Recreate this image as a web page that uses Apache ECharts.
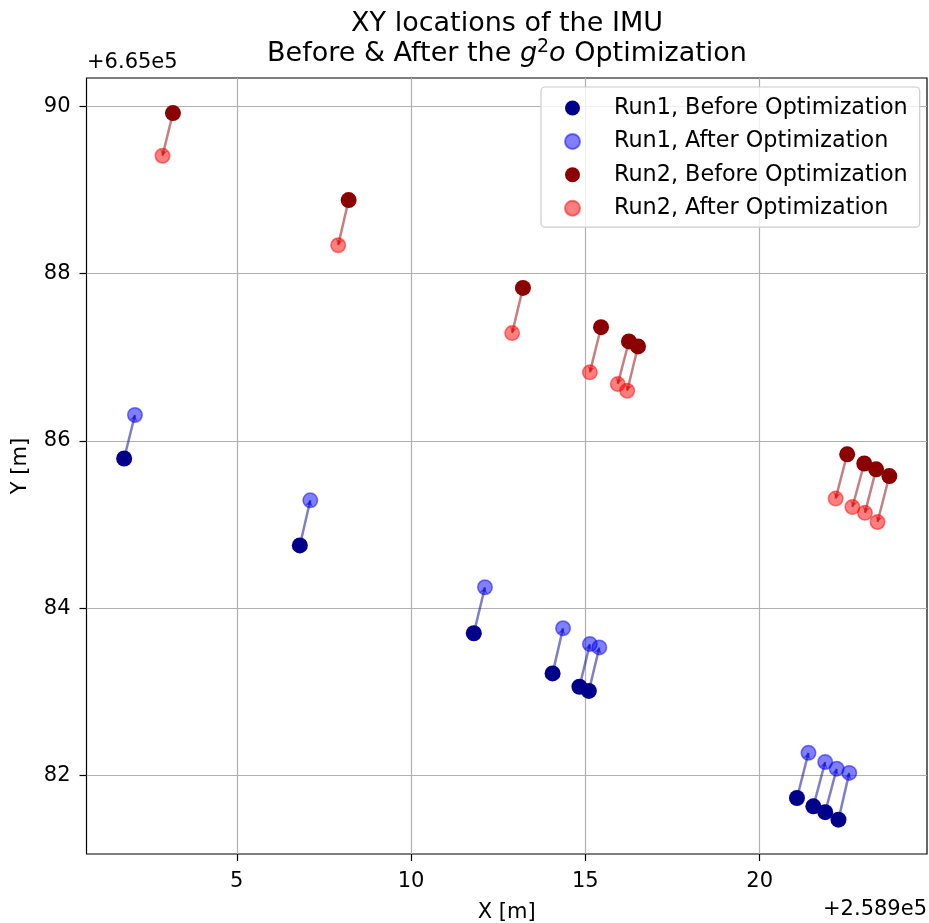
<!DOCTYPE html>
<html>
<head>
<meta charset="utf-8">
<script src="https://cdn.jsdelivr.net/npm/echarts@6/dist/echarts.min.js"></script>
<style>html,body{margin:0;padding:0;background:#fff;}#c{width:929px;height:923px;}</style>
</head>
<body>
<div id="c"></div>
<script>
// Values shown relative to the axis offsets (as in the reference)
const xOffsetText = '+2.589e5';
const yOffsetText = '+6.65e5';
const xTicks = [5, 10, 15, 20];
const yTicks = [82, 84, 86, 88, 90];

const run1BeforeX = [1.77, 6.81, 11.80, 14.06, 14.83, 15.10, 21.07, 21.54, 21.88, 22.26];
const run1BeforeY = [85.79, 84.75, 83.70, 83.22, 83.06, 83.01, 81.73, 81.63, 81.56, 81.47];
const run1AfterX  = [2.08, 7.11, 12.12, 14.36, 15.13, 15.40, 21.40, 21.88, 22.21, 22.57];
const run1AfterY  = [86.31, 85.29, 84.25, 83.76, 83.57, 83.53, 82.27, 82.16, 82.08, 82.03];
const run2BeforeX = [3.17, 8.21, 13.21, 15.45, 16.25, 16.51, 22.51, 23.00, 23.34, 23.72];
const run2BeforeY = [89.92, 88.88, 87.83, 87.36, 87.19, 87.13, 85.84, 85.73, 85.66, 85.58];
const run2AfterX  = [2.87, 7.91, 12.90, 15.13, 15.93, 16.20, 22.18, 22.66, 23.02, 23.38];
const run2AfterY  = [89.41, 88.34, 87.29, 86.82, 86.68, 86.60, 85.31, 85.21, 85.14, 85.03];

const seriesNames = ['Run1, Before Optimization', 'Run1, After Optimization',
                     'Run2, Before Optimization', 'Run2, After Optimization'];

const FF = '"DejaVu Sans", sans-serif';
const zip = (xs, ys) => xs.map((x, i) => [x, ys[i]]);
const pairs = (bx, by, ax, ay) => bx.map((x, i) => ({coords: [[x, by[i]], [ax[i], ay[i]]]}));

const chart = echarts.init(document.getElementById('c'), null, {renderer: 'canvas'});
chart.setOption({
  animation: false,
  backgroundColor: '#fff',
  grid: {left: 86.5, right: 2, top: 78, bottom: 69, show: true, borderColor: '#000', borderWidth: 1.2,
         backgroundColor: 'transparent', containLabel: false, outerBoundsMode: 'none'},
  xAxis: {
    type: 'value', min: 0.69, max: 24.8,
    name: 'X [m]', nameLocation: 'middle', nameGap: 48,
    nameTextStyle: {fontSize: 21, color: '#000', fontFamily: FF},
    axisLine: {show: false},
    axisTick: {show: true, length: 7, customValues: xTicks, lineStyle: {color: '#000', width: 1.2}},
    axisLabel: {customValues: xTicks, fontSize: 21, color: '#000', margin: 17, fontFamily: FF},
    splitLine: {show: true, lineStyle: {color: '#b0b0b0', width: 1.2}}
  },
  yAxis: {
    type: 'value', min: 81.06, max: 90.34,
    name: 'Y [m]', nameLocation: 'middle', nameGap: 55,
    nameTextStyle: {fontSize: 21, color: '#000', fontFamily: FF},
    axisLine: {show: false},
    axisTick: {show: true, length: 7, customValues: yTicks, lineStyle: {color: '#000', width: 1.2}},
    axisLabel: {customValues: yTicks, fontSize: 21, color: '#000', margin: 16, fontFamily: FF},
    splitLine: {show: true, lineStyle: {color: '#b0b0b0', width: 1.2}}
  },
  legend: {
    orient: 'vertical', left: 541, top: 87,
    padding: [10, 12, 8, 23],
    itemWidth: 15, itemHeight: 22, itemGap: 11.4,
    backgroundColor: 'rgba(255,255,255,0.8)', borderColor: '#cccccc', borderWidth: 1.2, borderRadius: 4,
    textStyle: {fontSize: 22.3, fontFamily: FF, color: '#000', padding: [0, 0, 0, 29], lineHeight: 22},
    data: seriesNames.map(n => ({name: n, icon: 'circle'}))
  },
  graphic: [
    {type: 'text', x: 507, y: 24, style: {text: 'XY locations of the IMU', font: '27px ' + FF, fill: '#000', align: 'center', verticalAlign: 'middle'}},
    {type: 'text', x: 507, y: 54, style: {
      text: '{n|Before & After the }{i|g}{s|2}{i|o}{n| Optimization}',
      align: 'center', verticalAlign: 'middle', fill: '#000',
      rich: {
        n: {fontSize: 27, fontFamily: FF, lineHeight: 32, fill: '#000'},
        i: {fontSize: 27, fontFamily: FF, fontStyle: 'italic', lineHeight: 32, fill: '#000'},
        s: {fontSize: 19, fontFamily: FF, lineHeight: 12, verticalAlign: 'top', fill: '#000'}
      }
    }},
    {type: 'text', x: 87, y: 63, style: {text: yOffsetText, font: '21px ' + FF, fill: '#000', align: 'left', verticalAlign: 'middle'}},
    {type: 'text', x: 927, y: 910, style: {text: xOffsetText, font: '21px ' + FF, fill: '#000', align: 'right', verticalAlign: 'middle'}}
  ],
  series: [
    {type: 'lines', coordinateSystem: 'cartesian2d', z: 2, silent: true,
     data: pairs(run1BeforeX, run1BeforeY, run1AfterX, run1AfterY),
     symbol: ['none', 'arrow'], symbolSize: 6,
     lineStyle: {color: 'rgba(0,0,139,0.5)', width: 2.5, opacity: 1}},
    {type: 'lines', coordinateSystem: 'cartesian2d', z: 2, silent: true,
     data: pairs(run2BeforeX, run2BeforeY, run2AfterX, run2AfterY),
     symbol: ['none', 'arrow'], symbolSize: 6,
     lineStyle: {color: 'rgba(139,0,0,0.5)', width: 2.5, opacity: 1}},
    {name: seriesNames[0], type: 'scatter', z: 4, symbolSize: 16, data: zip(run1BeforeX, run1BeforeY),
     itemStyle: {color: '#00008b', opacity: 1}},
    {name: seriesNames[1], type: 'scatter', z: 3, symbolSize: 14.5, data: zip(run1AfterX, run1AfterY),
     itemStyle: {color: '#0000ff', borderColor: '#0000ff', borderWidth: 1.5, opacity: 0.5}},
    {name: seriesNames[2], type: 'scatter', z: 4, symbolSize: 16, data: zip(run2BeforeX, run2BeforeY),
     itemStyle: {color: '#8b0000', opacity: 1}},
    {name: seriesNames[3], type: 'scatter', z: 3, symbolSize: 14.5, data: zip(run2AfterX, run2AfterY),
     itemStyle: {color: '#ff0000', borderColor: '#ff0000', borderWidth: 1.5, opacity: 0.5}}
  ]
});
</script>
</body>
</html>
